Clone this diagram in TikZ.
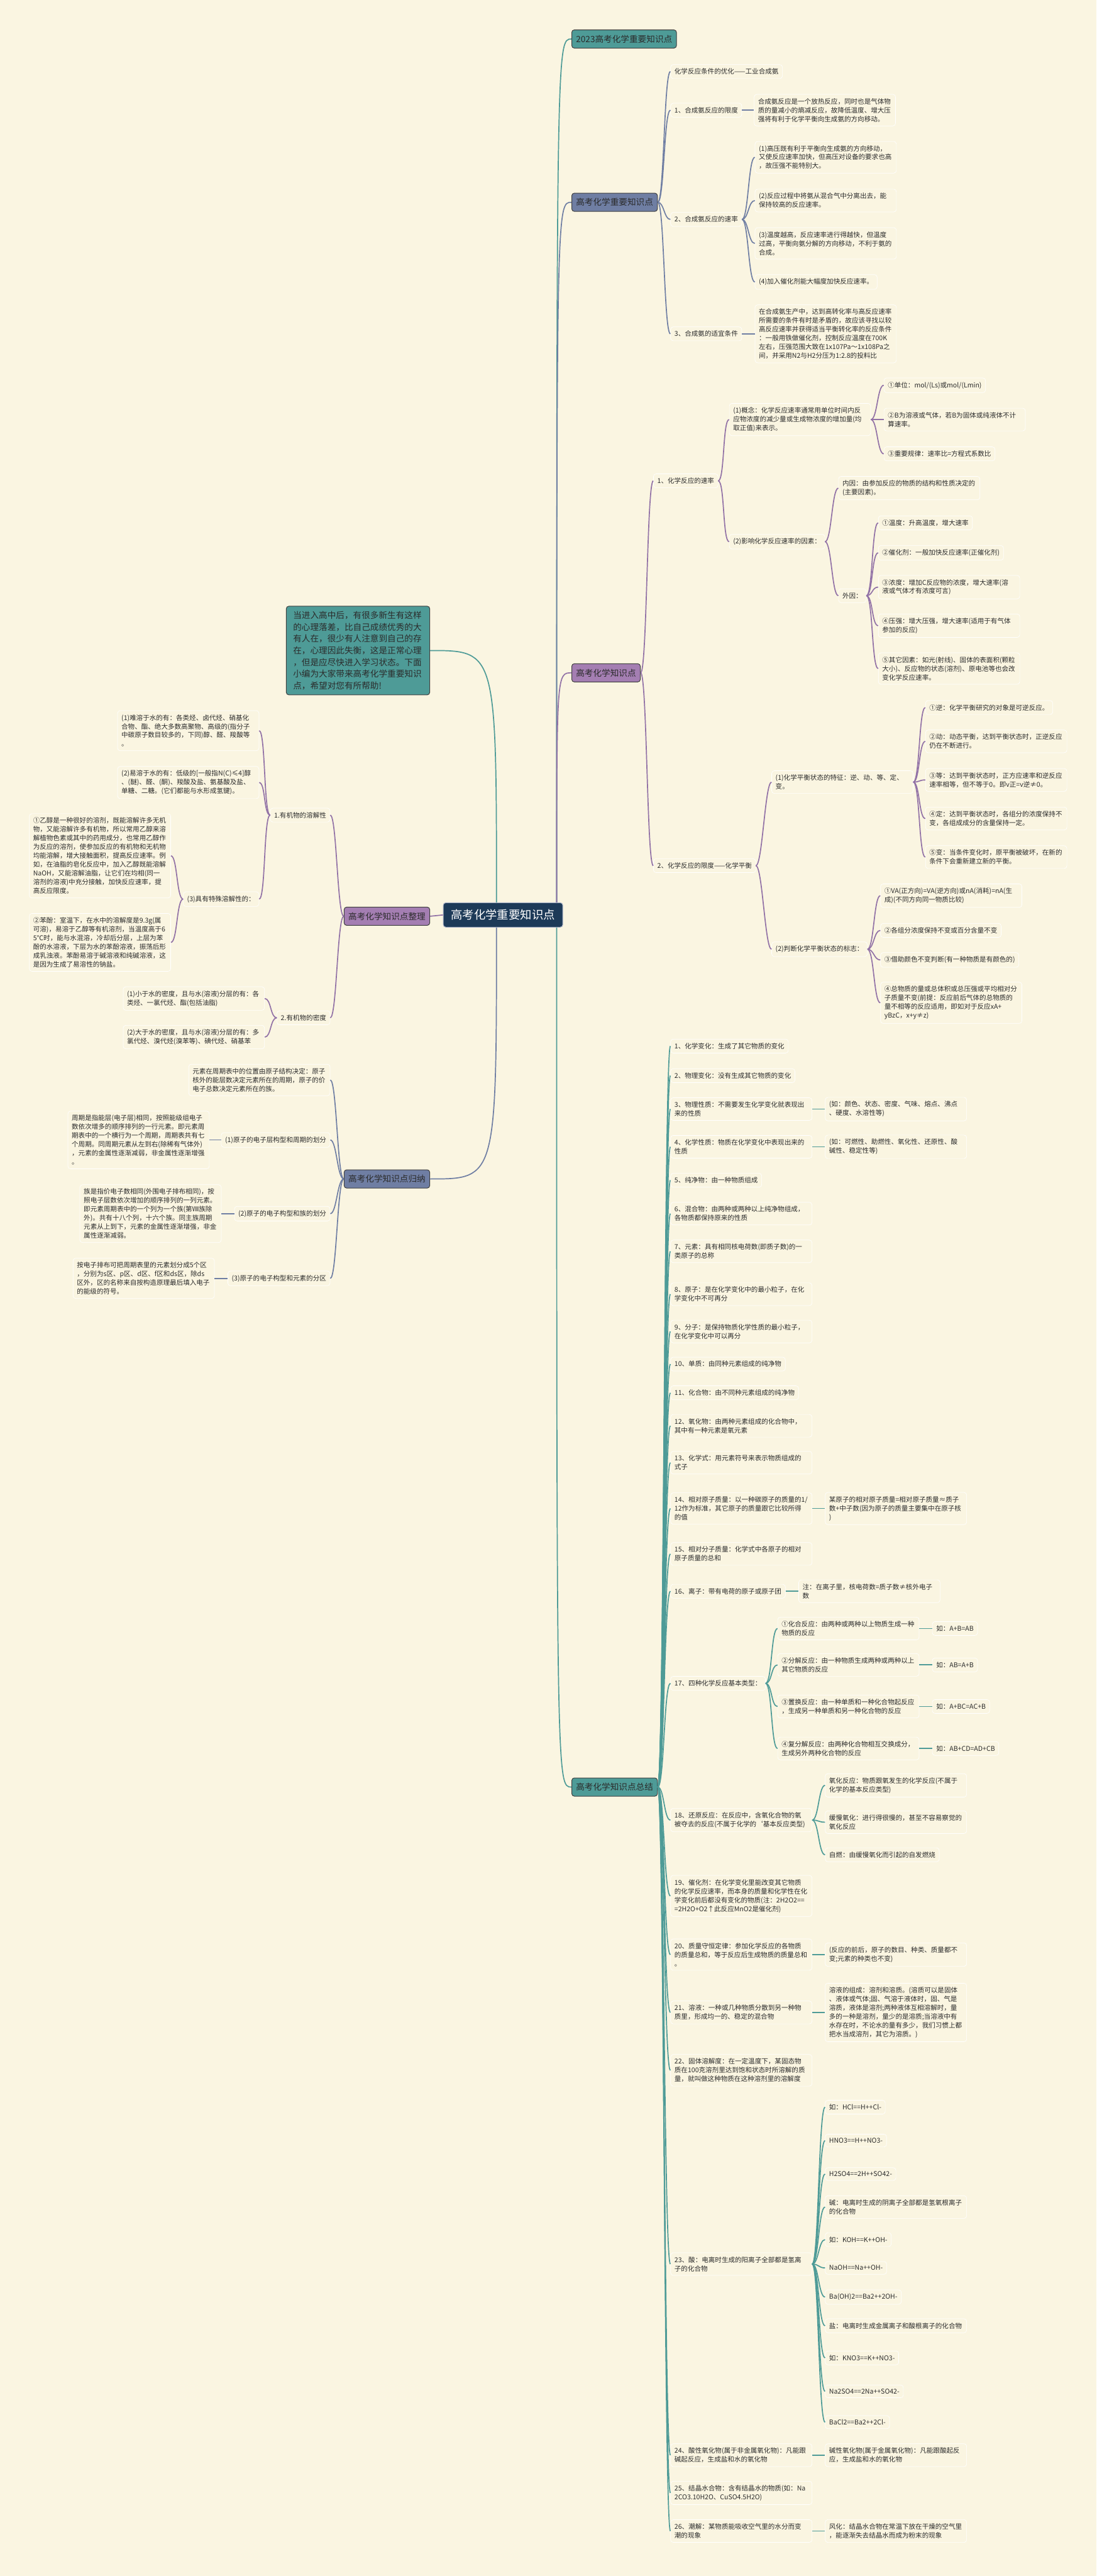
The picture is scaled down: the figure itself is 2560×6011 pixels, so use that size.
\documentclass[tikz,border=0pt]{standalone}
\usepackage{fontspec}
\setmainfont{Noto Sans CJK SC}
\usepackage{tikz}
\usetikzlibrary{positioning}

\definecolor{bgc}{HTML}{FAF5E1}
\definecolor{txtc}{HTML}{2B2B2B}
\definecolor{tealc}{HTML}{4E9B97}
\definecolor{slatec}{HTML}{6F7EA3}
\definecolor{purpc}{HTML}{A47EB2}
\definecolor{purpd}{HTML}{9272A6}
\definecolor{rootc}{HTML}{1D3A58}

\newcommand{\leafsize}{\fontsize{15.5pt}{20.5pt}\selectfont}
\newcommand{\headsize}{\fontsize{20pt}{26pt}\selectfont}
\newcommand{\rootsize}{\fontsize{27pt}{32pt}\selectfont}
\newcommand{\notesize}{\fontsize{20pt}{27.3pt}\selectfont}

\begin{document}
\begin{tikzpicture}[x=1pt,y=-1pt,
    leaf/.style={draw=white, line width=1pt, fill=bgc, rounded corners=6pt, inner xsep=9pt, inner ysep=9pt, font=\leafsize, text=txtc, align=left, anchor=west},
    wide/.style={leaf, text width=312pt},
    lleaf/.style={leaf, anchor=east},
    lwide/.style={wide, anchor=east},
    head/.style={draw=black!75, line width=1.5pt, rounded corners=6pt, inner xsep=10pt, inner ysep=12pt, font=\headsize, text=txtc, anchor=west},
    tealL/.style={draw=tealc, line width=2.5pt},
    slateL/.style={draw=slatec, line width=2.5pt},
    purpL/.style={draw=purpd, line width=2.5pt},
    rlink/.style={to path={.. controls +(15,0) and +(-15,0) .. (\tikztotarget)}},
    llink/.style={to path={.. controls +(-15,0) and +(15,0) .. (\tikztotarget)}}
  ]

  % --- fond ---
  \fill[bgc] (0,0) rectangle (2560,6011);
  \useasboundingbox (0,0) rectangle (2560,6011);

  % --- racine ---
  \node[draw=slatec!60, line width=1.5pt, fill=rootc, text=white, font=\rootsize, rounded corners=6pt, inner xsep=18pt, inner ysep=16pt, anchor=west] (root) at (1034,2135) {高考化学重要知识点};
  \coordinate (rtop) at ([xshift=-15pt]root.north east);
  \coordinate (rbot) at ([xshift=-15pt]root.south east);
  \coordinate (ltop) at ([xshift=125pt]root.north west);
  \coordinate (lbot) at ([xshift=125pt]root.south west);

  % --- branches principales ---
  \node[head, fill=tealc] (m0) at (1334,91) {2023高考化学重要知识点};
  \node[head, fill=slatec] (m1) at (1334,472) {高考化学重要知识点};
  \node[head, fill=purpc] (m2) at (1334,1570) {高考化学知识点};
  \node[head, fill=tealc] (m3) at (1334,4170) {高考化学知识点总结};
  \node[head, fill=tealc, anchor=east, text width=303pt, align=left, font=\notesize, inner xsep=16pt, inner ysep=12pt] (note) at (1004,1518) {当进入高中后，有很多新生有这样\\的心理落差，比自己成绩优秀的大\\有人在，很少有人注意到自己的存\\在，心理因此失衡，这是正常心理\\，但是应尽快进入学习状态。下面\\小编为大家带来高考化学重要知识\\点，希望对您有所帮助!};
  \node[head, fill=purpc, anchor=east] (zl) at (1004,2138) {高考化学知识点整理};
  \node[head, fill=slatec, anchor=east] (gl) at (1004,2751) {高考化学知识点归纳};

  \draw[tealL] (rtop) .. controls (rtop |- m0.west) .. (m0.west);
  \draw[slateL] (rtop) .. controls (rtop |- m1.west) .. (m1.west);
  \draw[purpL] (rtop) .. controls (rtop |- m2.west) .. (m2.west);
  \draw[tealL] (rbot) .. controls (rbot |- m3.west) .. (m3.west);
  \draw[tealL] (ltop) .. controls (ltop |- note.east) .. (note.east);
  \draw[purpL] (zl.east) -- (root.west);
  \draw[slateL] (lbot) .. controls (lbot |- gl.east) .. (gl.east);

  % --- Branche 1 : synthese de l'ammoniac ---
  \node[leaf] (k0) at (1565,167) {化学反应条件的优化——工业合成氨};
  \node[leaf] (k1) at (1565,257) {1、合成氨反应的限度};
  \node[wide] (k1a) at (1760,257) {合成氨反应是一个放热反应，同时也是气体物\\质的量减小的熵减反应，故降低温度、增大压\\强将有利于化学平衡向生成氨的方向移动。};
  \node[leaf] (k2) at (1565,512) {2、合成氨反应的速率};
  \node[wide] (k2a) at (1762,367) {(1)高压既有利于平衡向生成氨的方向移动，\\又使反应速率加快，但高压对设备的要求也高\\，故压强不能特别大。};
  \node[wide] (k2b) at (1762,468) {(2)反应过程中将氨从混合气中分离出去，能\\保持较高的反应速率。};
  \node[wide] (k2c) at (1762,568) {(3)温度越高，反应速率进行得越快，但温度\\过高，平衡向氨分解的方向移动，不利于氨的\\合成。};
  \node[leaf] (k2d) at (1762,658) {(4)加入催化剂能大幅度加快反应速率。};
  \node[leaf] (k3) at (1565,779) {3、合成氨的适宜条件};
  \node[wide] (k3a) at (1762,779) {在合成氨生产中，达到高转化率与高反应速率\\所需要的条件有时是矛盾的，故应该寻找以较\\高反应速率并获得适当平衡转化率的反应条件\\：一般用铁做催化剂，控制反应温度在700K\\左右，压强范围大致在1x107Pa～1x108Pa之\\间，并采用N2与H2分压为1:2.8的投料比};

  \draw[slateL] (m1.east) to[rlink] (k0.west);
  \draw[slateL] (m1.east) to[rlink] (k1.west);
  \draw[slateL] (m1.east) to[rlink] (k2.west);
  \draw[slateL] (m1.east) to[rlink] (k3.west);
  \draw[slateL] (k1.east) -- (k1a.west);
  \draw[slateL] (k2.east) to[rlink] (k2a.west);
  \draw[slateL] (k2.east) to[rlink] (k2b.west);
  \draw[slateL] (k2.east) to[rlink] (k2c.west);
  \draw[slateL] (k2.east) to[rlink] (k2d.west);
  \draw[slateL] (k3.east) -- (k3a.west);

  % --- Branche 2 : vitesse et equilibre ---
  \node[leaf] (z1) at (1525,1122) {1、化学反应的速率};
  \node[wide] (z11) at (1702,979) {(1)概念：化学反应速率通常用单位时间内反\\应物浓度的减少量或生成物浓度的增加量(均\\取正值)来表示。};
  \node[leaf] (z111) at (2063,899) {①单位：mol/(Ls)或mol/(Lmin)};
  \node[wide] (z112) at (2063,979) {②B为溶液或气体，若B为固体或纯液体不计\\算速率。};
  \node[leaf] (z113) at (2063,1059) {③重要规律：速率比=方程式系数比};
  \node[leaf] (z12) at (1702,1264) {(2)影响化学反应速率的因素：};
  \node[wide] (z121) at (1957,1139) {内因：由参加反应的物质的结构和性质决定的\\(主要因素)。};
  \node[leaf] (z122) at (1957,1390) {外因：};
  \node[leaf] (z1221) at (2050,1220) {①温度：升高温度，增大速率};
  \node[leaf] (z1222) at (2050,1290) {②催化剂：一般加快反应速率(正催化剂)};
  \node[wide] (z1223) at (2050,1370) {③浓度：增加C反应物的浓度，增大速率(溶\\液或气体才有浓度可言)};
  \node[wide] (z1224) at (2050,1460) {④压强：增大压强，增大速率(适用于有气体\\参加的反应)};
  \node[wide] (z1225) at (2050,1560) {⑤其它因素：如光(射线)、固体的表面积(颗粒\\大小)、反应物的状态(溶剂)、原电池等也会改\\变化学反应速率。};
  \node[leaf] (z2) at (1525,2020) {2、化学反应的限度——化学平衡};
  \node[wide] (z21) at (1801,1825) {(1)化学平衡状态的特征：逆、动、等、定、\\变。};
  \node[leaf] (z211) at (2160,1651) {①逆：化学平衡研究的对象是可逆反应。};
  \node[wide] (z212) at (2160,1730) {②动：动态平衡，达到平衡状态时，正逆反应\\仍在不断进行。};
  \node[wide] (z213) at (2160,1820) {③等：达到平衡状态时，正方应速率和逆反应\\速率相等，但不等于0。即v正=v逆≠0。};
  \node[wide] (z214) at (2160,1910) {④定：达到平衡状态时，各组分的浓度保持不\\变，各组成成分的含量保持一定。};
  \node[wide] (z215) at (2160,2000) {⑤变：当条件变化时，原平衡被破坏，在新的\\条件下会重新建立新的平衡。};
  \node[leaf] (z22) at (1801,2215) {(2)判断化学平衡状态的标志：};
  \node[wide] (z221) at (2055,2090) {①VA(正方向)=VA(逆方向)或nA(消耗)=nA(生\\成)(不同方向同一物质比较)};
  \node[leaf] (z222) at (2055,2171) {②各组分浓度保持不变或百分含量不变};
  \node[leaf] (z223) at (2055,2240) {③借助颜色不变判断(有一种物质是有颜色的)};
  \node[wide] (z224) at (2055,2340) {④总物质的量或总体积或总压强或平均相对分\\子质量不变(前提：反应前后气体的总物质的\\量不相等的反应适用，即如对于反应xA+\\yBzC，x+y≠z)};

  \draw[purpL] (m2.east) to[rlink] (z1.west);
  \draw[purpL] (m2.east) to[rlink] (z2.west);
  \draw[purpL] (z1.east) to[rlink] (z11.west);
  \draw[purpL] (z1.east) to[rlink] (z12.west);
  \draw[purpL] (z11.east) to[rlink] (z111.west);
  \draw[purpL] (z11.east) to[rlink] (z112.west);
  \draw[purpL] (z11.east) to[rlink] (z113.west);
  \draw[purpL] (z12.east) to[rlink] (z121.west);
  \draw[purpL] (z12.east) to[rlink] (z122.west);
  \draw[purpL] (z122.east) to[rlink] (z1221.west);
  \draw[purpL] (z122.east) to[rlink] (z1222.west);
  \draw[purpL] (z122.east) to[rlink] (z1223.west);
  \draw[purpL] (z122.east) to[rlink] (z1224.west);
  \draw[purpL] (z122.east) to[rlink] (z1225.west);
  \draw[purpL] (z2.east) to[rlink] (z21.west);
  \draw[purpL] (z2.east) to[rlink] (z22.west);
  \draw[purpL] (z21.east) to[rlink] (z211.west);
  \draw[purpL] (z21.east) to[rlink] (z212.west);
  \draw[purpL] (z21.east) to[rlink] (z213.west);
  \draw[purpL] (z21.east) to[rlink] (z214.west);
  \draw[purpL] (z21.east) to[rlink] (z215.west);
  \draw[purpL] (z22.east) to[rlink] (z221.west);
  \draw[purpL] (z22.east) to[rlink] (z222.west);
  \draw[purpL] (z22.east) to[rlink] (z223.west);
  \draw[purpL] (z22.east) to[rlink] (z224.west);

  % --- Branche gauche : organique ---
  \node[lleaf] (s1) at (771,1902) {1.有机物的溶解性};
  \node[lwide] (s11) at (605,1705) {(1)难溶于水的有：各类烃、卤代烃、硝基化\\合物、酯、绝大多数高聚物、高级的(指分子\\中碳原子数目较多的，下同)醇、醛、羧酸等\\。};
  \node[lwide] (s12) at (605,1826) {(2)易溶于水的有：低级的[一般指N(C)≤4]醇\\、(醚)、醛、(酮)、羧酸及盐、氨基酸及盐、\\单糖、二糖。(它们都能与水形成氢键)。};
  \node[lleaf] (s13) at (605,2098) {(3)具有特殊溶解性的：};
  \node[lwide] (s131) at (399,1997) {①乙醇是一种很好的溶剂，既能溶解许多无机\\物，又能溶解许多有机物，所以常用乙醇来溶\\解植物色素或其中的药用成分，也常用乙醇作\\为反应的溶剂，使参加反应的有机物和无机物\\均能溶解，增大接触面积，提高反应速率。例\\如，在油脂的皂化反应中，加入乙醇既能溶解\\NaOH，又能溶解油脂，让它们在均相(同一\\溶剂的溶液)中充分接触，加快反应速率，提\\高反应限度。};
  \node[lwide] (s132) at (399,2199) {②苯酚：室温下，在水中的溶解度是9.3g(属\\可溶)，易溶于乙醇等有机溶剂，当温度高于6\\5℃时，能与水混溶，冷却后分层，上层为苯\\酚的水溶液，下层为水的苯酚溶液，振荡后形\\成乳浊液。苯酚易溶于碱溶液和纯碱溶液，这\\是因为生成了易溶性的钠盐。};
  \node[lleaf] (s2) at (771,2375) {2.有机物的密度};
  \node[lwide] (s21) at (618,2330) {(1)小于水的密度，且与水(溶液)分层的有：各\\类烃、一氯代烃、酯(包括油脂)};
  \node[lwide] (s22) at (618,2420) {(2)大于水的密度，且与水(溶液)分层的有：多\\氯代烃、溴代烃(溴苯等)、碘代烃、硝基苯};

  \draw[purpL] (zl.west) to[llink] (s1.east);
  \draw[purpL] (zl.west) to[llink] (s2.east);
  \draw[purpL] (s1.west) to[llink] (s11.east);
  \draw[purpL] (s1.west) to[llink] (s12.east);
  \draw[purpL] (s1.west) to[llink] (s13.east);
  \draw[purpL] (s13.west) to[llink] (s131.east);
  \draw[purpL] (s13.west) to[llink] (s132.east);
  \draw[purpL] (s2.west) to[llink] (s21.east);
  \draw[purpL] (s2.west) to[llink] (s22.east);

  % --- Branche gauche : tableau periodique ---
  \node[lwide] (g0) at (771,2520) {元素在周期表中的位置由原子结构决定：原子\\核外的能层数决定元素所在的周期，原子的价\\电子总数决定元素所在的族。};
  \node[lleaf] (g1) at (771,2660) {(1)原子的电子层构型和周期的划分};
  \node[lwide] (g1a) at (489,2660) {周期是指能层(电子层)相同，按照能级组电子\\数依次增多的顺序排列的一行元素。即元素周\\期表中的一个横行为一个周期，周期表共有七\\个周期。同周期元素从左到右(除稀有气体外)\\，元素的金属性逐渐减弱，非金属性逐渐增强\\。};
  \node[lleaf] (g2) at (771,2832) {(2)原子的电子构型和族的划分};
  \node[lwide] (g2a) at (517,2832) {族是指价电子数相同(外围电子排布相同)，按\\照电子层数依次增加的顺序排列的一列元素。\\即元素周期表中的一个列为一个族(第Ⅷ族除\\外)。共有十八个列，十六个族。同主族周期\\元素从上到下，元素的金属性逐渐增强，非金\\属性逐渐减弱。};
  \node[lleaf] (g3) at (771,2983) {(3)原子的电子构型和元素的分区};
  \node[lwide] (g3a) at (501,2983) {按电子排布可把周期表里的元素划分成5个区\\，分别为s区、p区、d区、f区和ds区，除ds\\区外，区的名称来自按构造原理最后填入电子\\的能级的符号。};

  \draw[slateL] (gl.west) to[llink] (g0.east);
  \draw[slateL] (gl.west) to[llink] (g1.east);
  \draw[slateL] (gl.west) to[llink] (g2.east);
  \draw[slateL] (gl.west) to[llink] (g3.east);
  \draw[slateL] (g1.west) -- (g1a.east);
  \draw[slateL] (g2.west) -- (g2a.east);
  \draw[slateL] (g3.west) -- (g3a.east);

  % --- Branche 3 : resume (1-13) ---
  \node[leaf] (t1) at (1565,2441) {1、化学变化：生成了其它物质的变化};
  \node[leaf] (t2) at (1565,2510) {2、物理变化：没有生成其它物质的变化};
  \node[wide] (t3) at (1565,2588) {3、物理性质：不需要发生化学变化就表现出\\来的性质};
  \node[wide] (t3a) at (1926,2588) {(如：颜色、状态、密度、气味、熔点、沸点\\、硬度、水溶性等)};
  \node[wide] (t4) at (1565,2676) {4、化学性质：物质在化学变化中表现出来的\\性质};
  \node[wide] (t4a) at (1926,2676) {(如：可燃性、助燃性、氧化性、还原性、酸\\碱性、稳定性等)};
  \node[leaf] (t5) at (1565,2754) {5、纯净物：由一种物质组成};
  \node[wide] (t6) at (1565,2832) {6、混合物：由两种或两种以上纯净物组成，\\各物质都保持原来的性质};
  \node[wide] (t7) at (1565,2920) {7、元素：具有相同核电荷数(即质子数)的一\\类原子的总称};
  \node[wide] (t8) at (1565,3020) {8、原子：是在化学变化中的最小粒子，在化\\学变化中不可再分};
  \node[wide] (t9) at (1565,3107) {9、分子：是保持物质化学性质的最小粒子，\\在化学变化中可以再分};
  \node[leaf] (t10) at (1565,3183) {10、单质：由同种元素组成的纯净物};
  \node[leaf] (t11) at (1565,3250) {11、化合物：由不同种元素组成的纯净物};
  \node[wide] (t12) at (1565,3327) {12、氧化物：由两种元素组成的化合物中，\\其中有一种元素是氧元素};
  \node[wide] (t13) at (1565,3413) {13、化学式：用元素符号来表示物质组成的\\式子};

  % --- Branche 3 : resume (14-19) ---
  \node[wide] (t14) at (1565,3520) {14、相对原子质量：以一种碳原子的质量的1/\\12作为标准，其它原子的质量跟它比较所得\\的值};
  \node[wide] (t14a) at (1926,3520) {某原子的相对原子质量=相对原子质量≈质子\\数+中子数(因为原子的质量主要集中在原子核\\)};
  \node[wide] (t15) at (1565,3626) {15、相对分子质量：化学式中各原子的相对\\原子质量的总和};
  \node[leaf] (t16) at (1565,3713) {16、离子：带有电荷的原子或原子团};
  \node[wide] (t16a) at (1864,3713) {注：在离子里，核电荷数=质子数≠核外电子\\数};
  \node[leaf] (t17) at (1565,3928) {17、四种化学反应基本类型：};
  \node[wide] (t171) at (1815,3800) {①化合反应：由两种或两种以上物质生成一种\\物质的反应};
  \node[leaf] (t171a) at (2176,3800) {如：A+B=AB};
  \node[wide] (t172) at (1815,3885) {②分解反应：由一种物质生成两种或两种以上\\其它物质的反应};
  \node[leaf] (t172a) at (2176,3885) {如：AB=A+B};
  \node[wide] (t173) at (1815,3982) {③置换反应：由一种单质和一种化合物起反应\\，生成另一种单质和另一种化合物的反应};
  \node[leaf] (t173a) at (2176,3982) {如：A+BC=AC+B};
  \node[wide] (t174) at (1815,4080) {④复分解反应：由两种化合物相互交换成分，\\生成另外两种化合物的反应};
  \node[leaf] (t174a) at (2176,4080) {如：AB+CD=AD+CB};
  \node[wide] (t18) at (1565,4247) {18、还原反应：在反应中，含氧化合物的氧\\被夺去的反应(不属于化学的`基本反应类型)};
  \node[wide] (t181) at (1926,4166) {氧化反应：物质跟氧发生的化学反应(不属于\\化学的基本反应类型)};
  \node[wide] (t182) at (1926,4252) {缓慢氧化：进行得很慢的，甚至不容易察觉的\\氧化反应};
  \node[leaf] (t183) at (1926,4328) {自燃：由缓慢氧化而引起的自发燃烧};
  \node[wide] (t19) at (1565,4424) {19、催化剂：在化学变化里能改变其它物质\\的化学反应速率，而本身的质量和化学性在化\\学变化前后都没有变化的物质(注：2H2O2==\\=2H2O+O2↑此反应MnO2是催化剂)};

  % --- Branche 3 : resume (20-26) ---
  \node[wide] (t20) at (1565,4561) {20、质量守恒定律：参加化学反应的各物质\\的质量总和，等于反应后生成物质的质量总和\\。};
  \node[wide] (t20a) at (1926,4561) {(反应的前后，原子的数目、种类、质量都不\\变;元素的种类也不变)};
  \node[wide] (t21) at (1565,4696) {21、溶液：一种或几种物质分散到另一种物\\质里，形成均一的、稳定的混合物};
  \node[wide] (t21a) at (1926,4696) {溶液的组成：溶剂和溶质。(溶质可以是固体\\、液体或气体;固、气溶于液体时，固、气是\\溶质，液体是溶剂;两种液体互相溶解时，量\\多的一种是溶剂，量少的是溶质;当溶液中有\\水存在时，不论水的量有多少，我们习惯上都\\把水当成溶剂，其它为溶质。)};
  \node[wide] (t22) at (1565,4831) {22、固体溶解度：在一定温度下，某固态物\\质在100克溶剂里达到饱和状态时所溶解的质\\量，就叫做这种物质在这种溶剂里的溶解度};
  \node[wide] (t23) at (1565,5283) {23、酸：电离时生成的阳离子全部都是氢离\\子的化合物};
  \node[leaf] (t2301) at (1926,4917) {如：HCl==H++Cl-};
  \node[leaf] (t2302) at (1926,4995) {HNO3==H++NO3-};
  \node[leaf] (t2303) at (1926,5073) {H2SO4==2H++SO42-};
  \node[wide] (t2304) at (1926,5150) {碱：电离时生成的阴离子全部都是氢氧根离子\\的化合物};
  \node[leaf] (t2305) at (1926,5226) {如：KOH==K++OH-};
  \node[leaf] (t2306) at (1926,5292) {NaOH==Na++OH-};
  \node[leaf] (t2307) at (1926,5360) {Ba(OH)2==Ba2++2OH-};
  \node[wide] (t2308) at (1926,5427) {盐：电离时生成金属离子和酸根离子的化合物};
  \node[leaf] (t2309) at (1926,5502) {如：KNO3==K++NO3-};
  \node[leaf] (t2310) at (1926,5580) {Na2SO4==2Na++SO42-};
  \node[leaf] (t2311) at (1926,5652) {BaCl2==Ba2++2Cl-};
  \node[wide] (t24) at (1565,5729) {24、酸性氧化物(属于非金属氧化物)：凡能跟\\碱起反应，生成盐和水的氧化物};
  \node[wide] (t24a) at (1926,5729) {碱性氧化物(属于金属氧化物)：凡能跟酸起反\\应，生成盐和水的氧化物};
  \node[wide] (t25) at (1565,5817) {25、结晶水合物：含有结晶水的物质(如：Na\\2CO3.10H2O、CuSO4.5H2O)};
  \node[wide] (t26) at (1565,5906) {26、潮解：某物质能吸收空气里的水分而变\\潮的现象};
  \node[wide] (t26a) at (1926,5906) {风化：结晶水合物在常温下放在干燥的空气里\\，能逐渐失去结晶水而成为粉末的现象};

  % liens du resume
  \draw[tealL] (m3.east) to[rlink] (t1.west);
  \draw[tealL] (m3.east) to[rlink] (t2.west);
  \draw[tealL] (m3.east) to[rlink] (t3.west);
  \draw[tealL] (m3.east) to[rlink] (t4.west);
  \draw[tealL] (m3.east) to[rlink] (t5.west);
  \draw[tealL] (m3.east) to[rlink] (t6.west);
  \draw[tealL] (m3.east) to[rlink] (t7.west);
  \draw[tealL] (m3.east) to[rlink] (t8.west);
  \draw[tealL] (m3.east) to[rlink] (t9.west);
  \draw[tealL] (m3.east) to[rlink] (t10.west);
  \draw[tealL] (m3.east) to[rlink] (t11.west);
  \draw[tealL] (m3.east) to[rlink] (t12.west);
  \draw[tealL] (m3.east) to[rlink] (t13.west);
  \draw[tealL] (m3.east) to[rlink] (t14.west);
  \draw[tealL] (m3.east) to[rlink] (t15.west);
  \draw[tealL] (m3.east) to[rlink] (t16.west);
  \draw[tealL] (m3.east) to[rlink] (t17.west);
  \draw[tealL] (m3.east) to[rlink] (t18.west);
  \draw[tealL] (m3.east) to[rlink] (t19.west);
  \draw[tealL] (m3.east) to[rlink] (t20.west);
  \draw[tealL] (m3.east) to[rlink] (t21.west);
  \draw[tealL] (m3.east) to[rlink] (t22.west);
  \draw[tealL] (m3.east) to[rlink] (t23.west);
  \draw[tealL] (m3.east) to[rlink] (t24.west);
  \draw[tealL] (m3.east) to[rlink] (t25.west);
  \draw[tealL] (m3.east) to[rlink] (t26.west);
  \draw[tealL] (t3.east) -- (t3a.west);
  \draw[tealL] (t4.east) -- (t4a.west);
  \draw[tealL] (t14.east) -- (t14a.west);
  \draw[tealL] (t16.east) -- (t16a.west);
  \draw[tealL] (t17.east) to[rlink] (t171.west);
  \draw[tealL] (t17.east) to[rlink] (t172.west);
  \draw[tealL] (t17.east) to[rlink] (t173.west);
  \draw[tealL] (t17.east) to[rlink] (t174.west);
  \draw[tealL] (t171.east) -- (t171a.west);
  \draw[tealL] (t172.east) -- (t172a.west);
  \draw[tealL] (t173.east) -- (t173a.west);
  \draw[tealL] (t174.east) -- (t174a.west);
  \draw[tealL] (t18.east) to[rlink] (t181.west);
  \draw[tealL] (t18.east) to[rlink] (t182.west);
  \draw[tealL] (t18.east) to[rlink] (t183.west);
  \draw[tealL] (t20.east) -- (t20a.west);
  \draw[tealL] (t21.east) -- (t21a.west);
  \draw[tealL] (t23.east) to[rlink] (t2301.west);
  \draw[tealL] (t23.east) to[rlink] (t2302.west);
  \draw[tealL] (t23.east) to[rlink] (t2303.west);
  \draw[tealL] (t23.east) to[rlink] (t2304.west);
  \draw[tealL] (t23.east) to[rlink] (t2305.west);
  \draw[tealL] (t23.east) to[rlink] (t2306.west);
  \draw[tealL] (t23.east) to[rlink] (t2307.west);
  \draw[tealL] (t23.east) to[rlink] (t2308.west);
  \draw[tealL] (t23.east) to[rlink] (t2309.west);
  \draw[tealL] (t23.east) to[rlink] (t2310.west);
  \draw[tealL] (t23.east) to[rlink] (t2311.west);
  \draw[tealL] (t24.east) -- (t24a.west);
  \draw[tealL] (t26.east) -- (t26a.west);

\end{tikzpicture}
\end{document}
